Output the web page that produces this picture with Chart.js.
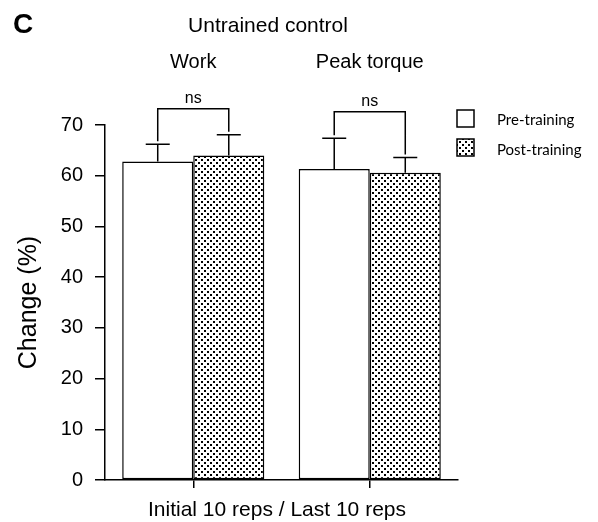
<!DOCTYPE html>
<html>
<head>
<meta charset="utf-8">
<script src="https://cdn.jsdelivr.net/npm/chart.js@4"></script>
<style>
  html, body { margin: 0; padding: 0; background: #fff; }
  canvas { display: block; }
</style>
</head>
<body>
<canvas id="chart" width="598" height="522"></canvas>
<script>
// Datos (Change %, control sin entrenar)
const categories = ["Work", "Peak torque"];
const preTraining = [62.8, 61.3];
const postTraining = [64.0, 60.6];
const preErr = [3.4, 6.1];
const postErr = [4.1, 3.0];
const bracketTop = [73.2, 72.6];
const sigLabels = ["ns", "ns"];
const seriesNames = ["Pre-training", "Post-training"];
const yMin = 0;
const yMax = 70;
const yStep = 10;

const FONT = "'Liberation Sans', Arial, sans-serif";

// Relleno punteado para post-entrenamiento
function dotPattern() {
    const c = document.createElement("canvas");
    c.width = 6;
    c.height = 6;
    const g = c.getContext("2d");
    g.fillStyle = "#fff";
    g.fillRect(0, 0, 6, 6);
    g.fillStyle = "#000";
    g.fillRect(0, 0, 2, 2);
    g.fillRect(3, 3, 2, 2);
    return document.getElementById("chart").getContext("2d").createPattern(c, "repeat");
}
const dots = dotPattern();

// Barras de error + corchetes "ns"
const errorBars = {
    id: "errorBars",
    afterDatasetsDraw(chart) {
        const ctx = chart.ctx;
        const y = chart.scales.y;
        const errs = [preErr, postErr];
        const tops = [];
        ctx.save();
        ctx.strokeStyle = "#000";
        ctx.lineWidth = 1.5;
        chart.data.datasets.forEach((ds, i) => {
            const meta = chart.getDatasetMeta(i);
            tops[i] = [];
            meta.data.forEach((bar, j) => {
                const yt = y.getPixelForValue(ds.data[j] + errs[i][j]);
                tops[i][j] = yt;
                ctx.beginPath();
                ctx.moveTo(bar.x, bar.y);
                ctx.lineTo(bar.x, yt);
                ctx.moveTo(bar.x - 12, yt);
                ctx.lineTo(bar.x + 12, yt);
                ctx.stroke();
            });
        });
        // corchetes
        const m0 = chart.getDatasetMeta(0).data;
        const m1 = chart.getDatasetMeta(1).data;
        ctx.font = "16px " + FONT;
        ctx.fillStyle = "#000";
        ctx.textAlign = "center";
        ctx.textBaseline = "alphabetic";
        categories.forEach((c, j) => {
            const yb = y.getPixelForValue(bracketTop[j]);
            ctx.beginPath();
            ctx.moveTo(m0[j].x, tops[0][j] - 3);
            ctx.lineTo(m0[j].x, yb);
            ctx.lineTo(m1[j].x, yb);
            ctx.lineTo(m1[j].x, tops[1][j] - 3);
            ctx.stroke();
            ctx.fillText(sigLabels[j], (m0[j].x + m1[j].x) / 2, yb - 6);
        });
        ctx.restore();
    }
};

// Textos y leyenda
const labels = {
    id: "labels",
    afterDraw(chart) {
        const ctx = chart.ctx;
        const x = chart.scales.x;
        const area = chart.chartArea;
        ctx.save();
        ctx.fillStyle = "#000";
        ctx.textBaseline = "alphabetic";

        ctx.textAlign = "center";
        ctx.font = "bold 28px " + FONT;
        ctx.fillText("C", 23, 33);

        ctx.font = "21px " + FONT;
        ctx.fillText("Untrained control", 268, 32);

        ctx.font = "20px " + FONT;
        categories.forEach((c, j) => {
            ctx.fillText(c, x.getPixelForValue(j), 68);
        });

        ctx.font = "21px " + FONT;
        ctx.fillText("Initial 10 reps / Last 10 reps", 277, 516);

        // título eje y
        ctx.save();
        ctx.translate(29, (area.top + area.bottom) / 2);
        ctx.rotate(-Math.PI / 2);
        ctx.font = "25px " + FONT;
        ctx.textBaseline = "middle";
        ctx.fillText("Change (%)", 0, 0);
        ctx.restore();

        // leyenda
        const fills = ["#fff", dots];
        const boxY = [110, 139];
        const textY = [125, 155];
        ctx.textAlign = "left";
        ctx.font = "15px Lato, 'Open Sans', sans-serif";
        ctx.lineWidth = 1.5;
        ctx.strokeStyle = "#000";
        seriesNames.forEach((name, i) => {
            ctx.fillStyle = fills[i];
            ctx.fillRect(457, boxY[i], 17, 17);
            ctx.strokeRect(457, boxY[i], 17, 17);
            ctx.fillStyle = "#000";
            ctx.fillText(name, 497, textY[i]);
        });
        ctx.restore();
    }
};

new Chart(document.getElementById("chart"), {
    type: "bar",
    data: {
        labels: categories,
        datasets: [
            {
                label: seriesNames[0],
                data: preTraining,
                backgroundColor: "#fff",
                borderColor: "#000",
                borderWidth: 1.5,
                borderSkipped: false
            },
            {
                label: seriesNames[1],
                data: postTraining,
                backgroundColor: dots,
                borderColor: "#000",
                borderWidth: 1.5,
                borderSkipped: false
            }
        ]
    },
    options: {
        responsive: false,
        animation: false,
        devicePixelRatio: 1,
        layout: {
            padding: { top: 125, right: 140, left: 0, bottom: 0 }
        },
        datasets: {
            bar: {
                categoryPercentage: 0.805,
                barPercentage: 1.0
            }
        },
        plugins: {
            legend: { display: false },
            tooltip: { enabled: false },
            title: { display: false }
        },
        scales: {
            x: {
                afterFit(scale) { scale.height = 42; },
                grid: {
                    offset: false,
                    drawOnChartArea: false,
                    drawTicks: true,
                    tickLength: 8,
                    color: "#000",
                    lineWidth: 1.5
                },
                border: { display: true, color: "#000", width: 1.5 },
                ticks: { display: false }
            },
            y: {
                min: yMin,
                max: yMax,
                afterFit(scale) { scale.width = 105; },
                grid: {
                    drawOnChartArea: false,
                    drawTicks: true,
                    tickLength: 10,
                    color: "#000",
                    lineWidth: 1.5
                },
                border: { display: true, color: "#000", width: 1.5 },
                ticks: {
                    stepSize: yStep,
                    padding: 12,
                    color: "#000",
                    font: { family: FONT, size: 20 }
                }
            }
        }
    },
    plugins: [errorBars, labels]
});
</script>
</body>
</html>
